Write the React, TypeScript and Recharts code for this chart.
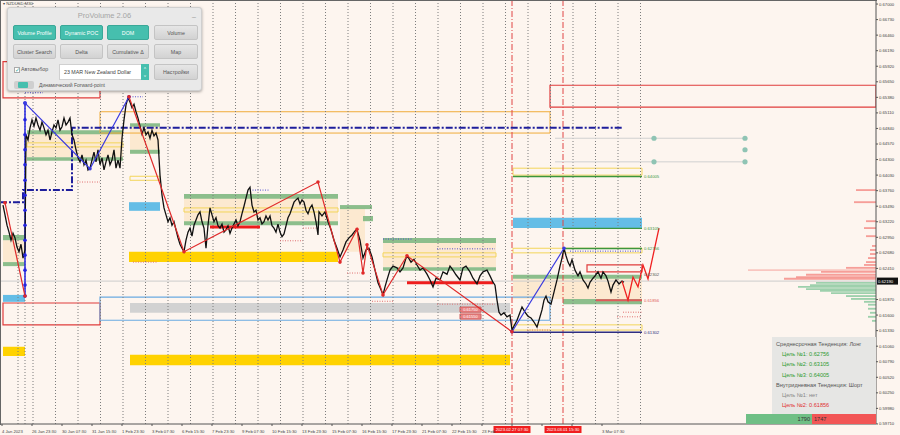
import React from 'react';
import {
  ComposedChart,
  Line,
  XAxis,
  YAxis,
  ReferenceArea,
  ReferenceLine,
  ReferenceDot,
} from 'recharts';

// price path, [bar, price]
const priceSeries: [number, number][] = [
  [3, 0.6351], [5, 0.6334], [7, 0.6316], [9, 0.6304], [11, 0.629], [13, 0.6302], [15, 0.6294], [17, 0.6278], [19, 0.627], [21, 0.6283],
  [23, 0.6259], [25, 0.6273], [26, 0.6473], [28, 0.6464], [30, 0.6485], [32, 0.6499], [34, 0.6488], [36, 0.6502], [38, 0.649], [40, 0.6481],
  [42, 0.6495], [44, 0.6485], [46, 0.6473], [48, 0.6481], [50, 0.6464], [52, 0.6478], [54, 0.649], [56, 0.6485], [58, 0.6499], [60, 0.6481],
  [62, 0.6487], [64, 0.6502], [66, 0.649], [68, 0.6495], [70, 0.6502], [72, 0.6473], [74, 0.6464], [76, 0.6447], [78, 0.6433], [80, 0.6426],
  [82, 0.6438], [84, 0.6421], [86, 0.6429], [88, 0.6412], [90, 0.6415], [92, 0.6429], [94, 0.6443], [96, 0.6426], [98, 0.6447], [100, 0.6421],
  [102, 0.6433], [104, 0.6412], [106, 0.6426], [108, 0.6438], [110, 0.6421], [112, 0.6429], [114, 0.6447], [116, 0.6415], [118, 0.6429], [120, 0.6415],
  [122, 0.6467], [124, 0.6499], [126, 0.6525], [128, 0.6537], [130, 0.653], [132, 0.652], [134, 0.6526], [136, 0.6513], [138, 0.6502], [140, 0.6488],
  [142, 0.6474], [144, 0.6485], [146, 0.6473], [148, 0.6478], [150, 0.6467], [152, 0.6481], [154, 0.6471], [156, 0.6476], [158, 0.6464], [160, 0.6403],
  [162, 0.6368], [164, 0.6346], [166, 0.6334], [168, 0.6322], [170, 0.6329], [172, 0.6316], [174, 0.6322], [176, 0.6308], [178, 0.6294], [180, 0.6283],
  [182, 0.6276], [184, 0.627], [186, 0.629], [188, 0.6304], [190, 0.6311], [192, 0.6297], [194, 0.6316], [196, 0.6325], [198, 0.6334], [200, 0.6339],
  [202, 0.6322], [204, 0.6311], [206, 0.6276], [208, 0.6316], [210, 0.6346], [212, 0.6334], [214, 0.6322], [216, 0.6329], [218, 0.6315], [220, 0.6311],
  [222, 0.6318], [224, 0.6304], [226, 0.6308], [228, 0.6315], [230, 0.6302], [232, 0.6311], [234, 0.6318], [236, 0.6325], [238, 0.6315], [240, 0.6322],
  [242, 0.6336], [244, 0.6349], [246, 0.6363], [248, 0.6377], [250, 0.6382], [252, 0.6351], [254, 0.6339], [256, 0.6342], [258, 0.6325], [260, 0.6329],
  [262, 0.6318], [264, 0.6322], [266, 0.6332], [268, 0.6325], [270, 0.6332], [272, 0.6315], [274, 0.6311], [276, 0.6304], [278, 0.6318], [280, 0.6304],
  [282, 0.6296], [284, 0.6301], [286, 0.6315], [288, 0.6329], [290, 0.6336], [292, 0.6346], [294, 0.6356], [296, 0.636], [298, 0.6363], [300, 0.6353],
  [302, 0.636], [304, 0.6356], [306, 0.6342], [308, 0.6336], [310, 0.6346], [312, 0.6351], [314, 0.6339], [316, 0.6322], [318, 0.6299], [319, 0.6339],
  [322, 0.6332], [325, 0.6339], [328, 0.6322], [331, 0.6308], [334, 0.629], [337, 0.6276], [340, 0.6261], [343, 0.6273], [346, 0.6287], [349, 0.6294],
  [352, 0.6299], [355, 0.6306], [357, 0.6308], [360, 0.629], [363, 0.6259], [366, 0.6273], [369, 0.6276], [372, 0.6261], [375, 0.6238], [378, 0.6216],
  [381, 0.6204], [383, 0.6195], [385, 0.6209], [387, 0.6221], [390, 0.6238], [393, 0.6245], [397, 0.6242], [400, 0.6235], [403, 0.6242], [406, 0.6259],
  [408, 0.6261], [411, 0.6252], [414, 0.6257], [417, 0.6247], [420, 0.6238], [423, 0.6242], [427, 0.6231], [430, 0.6221], [433, 0.6209], [436, 0.6224],
  [440, 0.6221], [443, 0.6235], [447, 0.6231], [450, 0.6245], [453, 0.6238], [456, 0.623], [460, 0.6221], [463, 0.6242], [466, 0.6245], [470, 0.6235],
  [473, 0.6224], [477, 0.6214], [480, 0.6228], [483, 0.6235], [487, 0.6238], [490, 0.6228], [493, 0.6217], [495, 0.6212], [497, 0.6186], [499, 0.6165],
  [501, 0.616], [504, 0.6164], [507, 0.6157], [510, 0.616], [512, 0.6134], [514, 0.6141], [517, 0.6151], [520, 0.6165], [522, 0.6174], [525, 0.6165],
  [528, 0.6158], [531, 0.6155], [534, 0.6148], [537, 0.6139], [540, 0.6157], [542, 0.6169], [544, 0.6186], [546, 0.6193], [548, 0.6183], [551, 0.6179],
  [554, 0.62], [557, 0.6221], [560, 0.6245], [562, 0.6259], [564, 0.6276], [566, 0.6263], [568, 0.6252], [570, 0.6245], [572, 0.6256], [575, 0.6238],
  [578, 0.6228], [580, 0.6235], [583, 0.6221], [586, 0.6214], [588, 0.6207], [590, 0.6217], [593, 0.6224], [595, 0.6228], [598, 0.6235], [601, 0.6224],
  [603, 0.6235], [606, 0.6228], [608, 0.6219], [611, 0.62], [613, 0.6212], [616, 0.6221], [619, 0.6214], [622, 0.6219], [624, 0.6217],
];

const redZigzag: [number, number][] = [[5, 0.6355], [25, 0.6193]];
const redZigzag2: [number, number][] = [
  [129, 0.6539], [184, 0.627], [318, 0.6391], [340, 0.6252], [357, 0.6309], [363, 0.6233], [367, 0.6282], [383, 0.6195], [407, 0.6263], [512, 0.6131],
];
const blueZigzag: [number, number][] = [[25, 0.6528], [90, 0.6414], [129, 0.6539]];
const blueZigzag2: [number, number][] = [[512, 0.6131], [564, 0.6276]];
const forecastPath: [number, number][] = [
  [622, 0.6219], [628, 0.6186], [633, 0.6226], [638, 0.6209], [643, 0.6247], [648, 0.6223], [659, 0.6311],
];
const blueDotStack = [0.6528, 0.6499, 0.6473, 0.6447, 0.6421, 0.6394, 0.6368, 0.6342, 0.6316, 0.629, 0.6264, 0.6238, 0.6212, 0.6193];
const dashDotStep: [number, number][] = [[0, 0.6356], [23, 0.6356], [23, 0.6377], [72, 0.6377], [72, 0.6485], [622, 0.6485]];

// zones [x1, x2, top, bottom]
type Zone = [number, number, number, number];
const peachZones: Zone[] = [
  [27, 123, 0.6476, 0.6434], [130, 160, 0.6488, 0.6447], [184, 338, 0.6363, 0.6322], [340, 365, 0.6346, 0.627],
  [383, 496, 0.6285, 0.6243], [513, 642, 0.6223, 0.6188], [3, 25, 0.629, 0.6252],
];
const greenZones: Zone[] = [
  [27, 123, 0.6481, 0.6474], [27, 123, 0.6434, 0.6428], [130, 160, 0.6493, 0.6487], [130, 160, 0.6447, 0.644],
  [184, 338, 0.637, 0.6362], [184, 338, 0.6323, 0.6316], [340, 372, 0.6351, 0.6344], [363, 373, 0.6332, 0.6323],
  [383, 496, 0.6294, 0.6285], [383, 496, 0.6243, 0.6237], [513, 642, 0.623, 0.6223], [563, 642, 0.6188, 0.6179],
  [3, 25, 0.6299, 0.629], [3, 25, 0.6252, 0.6245],
];
const goldZones: Zone[] = [[129, 338, 0.627, 0.6252], [130, 510, 0.6091, 0.6073], [3, 25, 0.6105, 0.6089]];
const skyZones: Zone[] = [[129, 160, 0.6356, 0.6341], [513, 642, 0.6329, 0.6311], [3, 25, 0.6195, 0.6183]];
const greyZones: Zone[] = [[130, 510, 0.6181, 0.6164]];
const redBoxes: Zone[] = [[550, 876, 0.6559, 0.6521], [3, 100, 0.66, 0.6537], [3, 100, 0.6181, 0.6143], [587, 642, 0.6247, 0.6235]];
const blueBoxes: Zone[] = [[100, 550, 0.6191, 0.6151]];
const orangeBoxes: Zone[] = [[100, 550, 0.6513, 0.6476]];
const yellowBoxes: Zone[] = [
  [27, 123, 0.6459, 0.6452], [130, 160, 0.6401, 0.6394], [184, 338, 0.6346, 0.6339], [383, 496, 0.6268, 0.6261],
  [513, 642, 0.6415, 0.6403], [513, 642, 0.6276, 0.6268], [513, 642, 0.6143, 0.6134],
];

// horizontal segments [x1, x2, price]
const redBars: [number, number, number][] = [[210, 260, 0.6313], [407, 493, 0.6216]];
const targetLevels = [0.64005, 0.63105, 0.62756];
const targetStart = [513, 563, 563];
const stopLevel = 0.61856;
const lowLevel = 0.61302;
const pivotLabel = 0.62302;
const bidPrice = 0.6219;
const greyRails = [0.6467, 0.6426];
const railDots: [number, number][] = [[654, 0.6467], [745, 0.6467], [745, 0.6447], [654, 0.6426], [745, 0.6426]];
const blueDotted: [number, number, number][] = [
  [250, 270, 0.6377], [437, 495, 0.6275], [383, 413, 0.6292], [570, 642, 0.6271], [130, 143, 0.6539], [25, 43, 0.6546],
];
const pinkDotted: [number, number, number][] = [
  [77, 100, 0.6391], [133, 157, 0.6252], [280, 303, 0.6289], [303, 317, 0.6311], [347, 360, 0.6233],
  [372, 393, 0.6184], [437, 495, 0.6179], [617, 642, 0.6157], [623, 642, 0.6165], [527, 550, 0.6134],
];
const pinkTags: [string, number, number][] = [['0.61750', 0.6174, 0.6165], ['0.61550', 0.6162, 0.6153]];

// volume profile on the right edge
const profileRedPrices = [0.6377, 0.6356, 0.6323, 0.6311, 0.6297, 0.628, 0.6273, 0.6266, 0.6259, 0.6252, 0.6247, 0.6242, 0.6238, 0.6235, 0.623, 0.6226, 0.6223];
const profileRedVols = [20, 22, 10, 12, 10, 4, 6, 6, 8, 10, 12, 30, 128, 55, 70, 80, 92];
const profileGreenPrices = [0.6216, 0.6212, 0.6209, 0.6205, 0.6202, 0.6198, 0.6193, 0.6188, 0.6183, 0.6178, 0.6171, 0.6164, 0.6157, 0.615];
const profileGreenVols = [60, 66, 78, 70, 56, 45, 30, 25, 12, 8, 8, 6, 8, 4];

const separators = [18, 25, 33, 55.5, 78, 100.5, 123, 145.5, 168, 190.5, 213, 235.5, 258, 280.5, 303, 325.5, 348, 370.5, 393, 415.5, 438, 460.5, 483, 505.5, 528, 550.5, 573, 595.5, 618, 640.5];
const markedTimes: [number, string][] = [[512, '2023.02.27 07:30'], [563, '2023.03.01 15:30']];

// ticks under the two red time tags are hidden in the terminal, so they carry no text
const xTickBars = [2, 32, 62, 92, 122, 152, 182, 212, 242, 272, 302, 332, 362, 392, 422, 452, 482, 512, 542, 572, 602];
const xTickLabels = [
  '4 Jan 2023', '26 Jan 23:30', '30 Jan 07:30', '31 Jan 15:30', '1 Feb 23:30', '3 Feb 07:30', '6 Feb 15:30', '7 Feb 23:30',
  '9 Feb 07:30', '10 Feb 15:30', '13 Feb 23:30', '15 Feb 07:30', '16 Feb 15:30', '17 Feb 23:30', '21 Feb 07:30', '22 Feb 15:30',
  '23 Feb', '', '', '', '3 Mar 07:30',
];
const yTicks = [
  0.67, 0.6673, 0.6646, 0.6619, 0.6592, 0.6565, 0.6538, 0.6511, 0.6484, 0.6457, 0.643, 0.6403, 0.6376, 0.6349,
  0.6322, 0.6295, 0.6268, 0.6241, 0.6187, 0.616, 0.6133, 0.6106, 0.6079, 0.6052, 0.6025, 0.5998, 0.5971,
];

const panelButtons: [string, boolean][] = [
  ['Volume Profile', true], ['Dynamic POC', true], ['DOM', true], ['Volume', false],
  ['Cluster Search', false], ['Delta', false], ['Cumulative Δ', false], ['Map', false],
];
const infoLines: [string, string, number][] = [
  ['Среднесрочная Тенденция: Лонг', '#555', 0],
  ['Цель №1: 0.62756', '#2f9a2f', 6],
  ['Цель №2: 0.63105', '#2f9a2f', 6],
  ['Цель №3: 0.64005', '#2f9a2f', 6],
  ['Внутридневная Тенденция: Шорт', '#555', 0],
  ['Цель №1: нет', '#888', 6],
  ['Цель №2: 0.61856', '#e03030', 6],
];
const buyVolume = 1790;
const sellVolume = 1747;

const BG = '#fdf5ef';
const FONT = '"Liberation Sans", Arial, sans-serif';
const toRows = (pts: [number, number][]) => pts.map(([x, p]) => ({ x, p }));

const zoneAreas = (zones: Zone[], key: string, style: any) =>
  zones.map(([x1, x2, hi, lo], i) => (
    <ReferenceArea key={key + i} x1={x1} x2={x2} y1={lo} y2={hi} ifOverflow="hidden" {...style} />
  ));

const Panel = () => {
  const cols = [5, 52, 99, 146];
  const widths = [43, 43, 42, 44];
  return (
    <div style={{ position: 'absolute', left: 7, top: 7, width: 195, height: 84, background: '#e9e9e9', border: '1px solid #cfcfcf', borderRadius: 3, boxShadow: '0 1px 3px rgba(0,0,0,0.35)', fontFamily: FONT, boxSizing: 'border-box' }}>
      <div style={{ position: 'absolute', left: 0, width: '100%', top: 3, textAlign: 'center', fontSize: 7.5, color: '#a5a5a5' }}>ProVolume 2.06</div>
      <div style={{ position: 'absolute', right: 5, top: 2, fontSize: 7, color: '#999' }}>_</div>
      {panelButtons.map(([label, on], i) => (
        <div key={label} style={{ position: 'absolute', left: cols[i % 4], top: i < 4 ? 17 : 36, width: widths[i % 4], height: 15, background: on ? '#46bfae' : 'linear-gradient(#e6e6e6, #d2d2d2)', borderRadius: 2, border: '1px solid ' + (on ? '#3aa898' : '#c4c4c4'), boxSizing: 'border-box', color: on ? '#fff' : '#555', fontSize: 5.3, textAlign: 'center', lineHeight: '15px' }}>{label}</div>
      ))}
      <div style={{ position: 'absolute', left: 6, top: 59, width: 6, height: 6, background: '#fff', border: '1px solid #aaa', boxSizing: 'border-box', fontSize: 6, color: '#3aa898', lineHeight: '5px' }}>✓</div>
      <div style={{ position: 'absolute', left: 13, top: 58, fontSize: 5.3, color: '#555' }}>Автовыбор</div>
      <div style={{ position: 'absolute', left: 51, top: 56, width: 90, height: 16, background: '#fff', border: '1px solid #d0d0d0', boxSizing: 'border-box', fontSize: 5.3, color: '#444', lineHeight: '15px', paddingLeft: 4 }}>23 MAR New Zealand Dollar</div>
      <div style={{ position: 'absolute', left: 133, top: 56, width: 8, height: 16, background: '#46bfae', color: '#fff', fontSize: 4, textAlign: 'center', lineHeight: '8px' }}>˄<br />˅</div>
      <div style={{ position: 'absolute', left: 146, top: 56, width: 44, height: 16, background: 'linear-gradient(#e6e6e6, #d2d2d2)', border: '1px solid #c4c4c4', borderRadius: 2, boxSizing: 'border-box', fontSize: 5.3, color: '#555', textAlign: 'center', lineHeight: '15px' }}>Настройки</div>
      <div style={{ position: 'absolute', left: 6, top: 73, width: 20, height: 8, background: '#cfcfcf', borderRadius: 2 }}>
        <div style={{ position: 'absolute', left: 4, top: 1, width: 10, height: 6, background: '#46bfae', borderRadius: 1 }} />
      </div>
      <div style={{ position: 'absolute', left: 31, top: 74, fontSize: 5, color: '#555' }}>Динамический Forward-point</div>
    </div>
  );
};

const InfoBox = () => (
  <div style={{ position: 'absolute', left: 772, top: 337, width: 104, height: 77, background: '#e6e6e4', fontFamily: FONT }}>
    {infoLines.map(([t, c, indent], i) => (
      <div key={i} style={{ position: 'absolute', left: 4 + indent, top: 4 + i * 10.2, fontSize: 5.6, color: c, whiteSpace: 'nowrap' }}>{t}</div>
    ))}
  </div>
);

const VolumeBar = () => {
  const total = buyVolume + sellVolume;
  const w = 130;
  const gw = Math.round((w * buyVolume) / total);
  return (
    <div style={{ position: 'absolute', left: 746, top: 414, width: w, height: 10, display: 'flex', fontFamily: FONT, fontSize: 5.6, color: '#333', lineHeight: '10px' }}>
      <div style={{ width: gw, background: '#6fbf85', textAlign: 'right', paddingRight: 2, boxSizing: 'border-box' }}>{buyVolume}</div>
      <div style={{ flex: 1, background: '#f25555', paddingLeft: 2 }}>{sellVolume}</div>
    </div>
  );
};

export default function App() {
  return (
    <div style={{ position: 'absolute', left: 0, top: 0, width: 900, height: 435, background: BG, overflow: 'hidden' }}>
      <ComposedChart width={900} height={435} data={toRows(priceSeries)} margin={{ top: 0, right: 0, bottom: 0, left: 0 }}>
        <XAxis
          type="number"
          dataKey="x"
          domain={[0, 876]}
          allowDataOverflow
          ticks={xTickBars}
          interval={0}
          height={11}
          tickSize={2}
          stroke="#555"
          tick={(p: any) => (
            <text x={p.x} y={p.y + 5} fontSize={4.2} fill="#444" fontFamily={FONT} textAnchor="start">
              {xTickLabels[xTickBars.indexOf(p.payload.value)]}
            </text>
          )}
        />
        <YAxis
          type="number"
          orientation="right"
          domain={[0.59709, 0.6707]}
          allowDataOverflow
          ticks={yTicks}
          interval={0}
          width={24}
          tickSize={2}
          tickMargin={1}
          stroke="#555"
          tick={{ fontSize: 4.2, fill: '#444', fontFamily: FONT }}
          tickFormatter={(v: number) => v.toFixed(5)}
        />

        {separators.map((x) => (
          <ReferenceLine key={'s' + x} x={x} stroke="#7d7d7d" strokeDasharray="1 2" />
        ))}
        {markedTimes.map(([x, t]) => (
          <ReferenceLine
            key={'m' + x}
            x={x}
            stroke="#e04545"
            strokeDasharray="6 2 1 2"
            label={({ viewBox }: any) => (
              <g>
                <rect x={viewBox.x - 18.5} y={viewBox.y + viewBox.height + 2} width={37} height={7} fill="#f01e1e" />
                <text x={viewBox.x} y={viewBox.y + viewBox.height + 7.3} fontSize={4.2} fill="#fff" textAnchor="middle" fontFamily={FONT}>{t}</text>
              </g>
            )}
          />
        ))}

        {zoneAreas(peachZones, 'pe', { fill: '#fbe4c6', fillOpacity: 0.75, stroke: 'none' })}
        {zoneAreas(greenZones, 'gr', { fill: '#86bb86', fillOpacity: 0.95, stroke: 'none' })}
        {zoneAreas(goldZones, 'go', { fill: '#ffd200', fillOpacity: 1, stroke: 'none' })}
        {zoneAreas(skyZones, 'sk', { fill: '#64bde6', fillOpacity: 1, stroke: 'none' })}
        {zoneAreas(greyZones, 'gy', { fill: '#d2d2d2', fillOpacity: 1, stroke: 'none' })}
        {zoneAreas(redBoxes, 'rb', { fill: 'none', stroke: '#e03c3c', strokeWidth: 1.2 })}
        {zoneAreas(blueBoxes, 'bb', { fill: 'none', stroke: '#6aaae2', strokeWidth: 1.2 })}
        {zoneAreas(orangeBoxes, 'ob', { fill: 'none', stroke: '#f0ac3a', strokeWidth: 1 })}
        {zoneAreas(yellowBoxes, 'yb', { fill: 'none', stroke: '#f3d55a', strokeWidth: 1 })}

        {profileRedPrices.map((p, i) => (
          <ReferenceArea key={'pr' + i} x1={876 - profileRedVols[i]} x2={876} y1={p - 0.00016} y2={p + 0.00016} fill="#f48e88" fillOpacity={i === 12 ? 0.45 : 0.85} stroke="none" />
        ))}
        {profileGreenPrices.map((p, i) => (
          <ReferenceArea key={'pg' + i} x1={876 - profileGreenVols[i]} x2={876} y1={p - 0.00016} y2={p + 0.00016} fill="#8cc9a0" fillOpacity={0.85} stroke="none" />
        ))}

        <ReferenceLine y={bidPrice} stroke="#cccccc" strokeWidth={1}
          label={({ viewBox }: any) => (
            <g>
              <rect x={viewBox.x + viewBox.width + 1} y={viewBox.y - 3.5} width={21} height={7} fill="#111" />
              <text x={viewBox.x + viewBox.width + 2} y={viewBox.y + 1.5} fontSize={4.2} fill="#fff" fontFamily={FONT}>{bidPrice.toFixed(5)}</text>
            </g>
          )}
        />
        {greyRails.map((p) => (
          <ReferenceLine key={'gr' + p} segment={[{ x: 555, y: p }, { x: 745, y: p }]} stroke="#d0d0d0" />
        ))}
        {railDots.map(([x, p], i) => (
          <ReferenceDot key={'rd' + i} x={x} y={p} r={2.6} fill="#8fc4b4" stroke="none" />
        ))}
        {blueDotted.map(([a, b, p], i) => (
          <ReferenceLine key={'bd' + i} segment={[{ x: a, y: p }, { x: b, y: p }]} stroke="#5050d0" strokeDasharray="1 1.5" />
        ))}
        {pinkDotted.map(([a, b, p], i) => (
          <ReferenceLine key={'pd' + i} segment={[{ x: a, y: p }, { x: b, y: p }]} stroke="#e07070" strokeDasharray="1 1.5" />
        ))}
        {redBars.map(([a, b, p], i) => (
          <ReferenceLine key={'rbar' + i} segment={[{ x: a, y: p }, { x: b, y: p }]} stroke="#ee1c1c" strokeWidth={3} />
        ))}
        {targetLevels.map((p, i) => (
          <ReferenceLine key={'t' + p} segment={[{ x: targetStart[i], y: p }, { x: 642, y: p }]} stroke="#3c963c" strokeWidth={1.4}
            label={{ value: p.toFixed(5), position: 'right', offset: 2, fill: '#3c963c', fontSize: 4.2, fontFamily: FONT }} />
        ))}
        <ReferenceLine segment={[{ x: 596, y: stopLevel }, { x: 642, y: stopLevel }]} stroke="#e05a5a" strokeWidth={2}
          label={{ value: stopLevel.toFixed(5), position: 'right', offset: 2, fill: '#e05a5a', fontSize: 4.2, fontFamily: FONT }} />
        <ReferenceLine segment={[{ x: 513, y: lowLevel }, { x: 642, y: lowLevel }]} stroke="#2e2e80" strokeWidth={1.4}
          label={{ value: lowLevel.toFixed(5), position: 'right', offset: 2, fill: '#2e2e80', fontSize: 4.2, fontFamily: FONT }} />
        <ReferenceLine segment={[{ x: 640, y: pivotLabel }, { x: 642, y: pivotLabel }]} stroke="none"
          label={{ value: pivotLabel.toFixed(5), position: 'right', offset: 2, fill: '#555', fontSize: 4.2, fontFamily: FONT }} />
        {pinkTags.map(([t, hi, lo]) => (
          <ReferenceArea key={t} x1={460} x2={481} y1={lo} y2={hi} fill="#e98282" fillOpacity={1} stroke="#d06060"
            label={{ value: t, position: 'center', fill: '#fff', fontSize: 4, fontFamily: FONT }} />
        ))}

        <Line data={toRows(dashDotStep)} dataKey="p" type="linear" stroke="#1e1e9c" strokeWidth={2} strokeDasharray="7 2 2 2" dot={false} activeDot={false} isAnimationActive={false} />
        <Line data={blueDotStack.map((p) => ({ x: 25, p }))} dataKey="p" type="linear" stroke="#2323e0" strokeWidth={1.5} dot={{ r: 1.8, fill: '#2323e0', stroke: 'none' }} activeDot={false} isAnimationActive={false} />
        <Line dataKey="p" type="linear" stroke="#111" strokeWidth={1.3} dot={false} activeDot={false} isAnimationActive={false} />
        <Line data={toRows(blueZigzag)} dataKey="p" type="linear" stroke="#3a3ae0" strokeWidth={1.2} dot={{ r: 1.8, fill: '#3a3ae0', stroke: 'none' }} activeDot={false} isAnimationActive={false} />
        <Line data={toRows(blueZigzag2)} dataKey="p" type="linear" stroke="#3a3ae0" strokeWidth={1.2} dot={{ r: 1.8, fill: '#3a3ae0', stroke: 'none' }} activeDot={false} isAnimationActive={false} />
        <Line data={toRows(redZigzag)} dataKey="p" type="linear" stroke="#e02a2a" strokeWidth={1.2} dot={{ r: 1.8, fill: '#e02a2a', stroke: 'none' }} activeDot={false} isAnimationActive={false} />
        <Line data={toRows(redZigzag2)} dataKey="p" type="linear" stroke="#e02a2a" strokeWidth={1.2} dot={{ r: 1.8, fill: '#e02a2a', stroke: 'none' }} activeDot={false} isAnimationActive={false} />
        <Line data={toRows(forecastPath)} dataKey="p" type="linear" stroke="#f02020" strokeWidth={1.3} dot={false} activeDot={false} isAnimationActive={false} />
      </ComposedChart>

      <div style={{ position: 'absolute', left: 0, top: 0, width: 877, height: 425, borderTop: '1px solid #666', borderLeft: '1px solid #666', boxSizing: 'border-box', pointerEvents: 'none' }} />
      <div style={{ position: 'absolute', left: 3, top: 1, fontSize: 4.2, color: '#444', fontFamily: FONT }}>▾ NZDUSD,M30</div>
      <Panel />
      <InfoBox />
      <VolumeBar />
    </div>
  );
}
